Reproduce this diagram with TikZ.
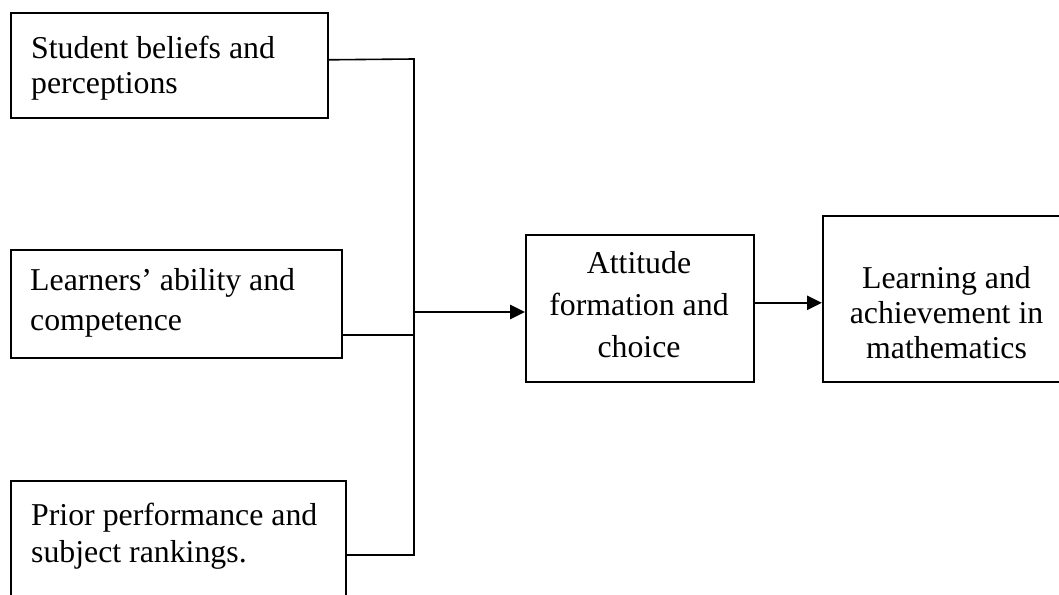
\documentclass[tikz,border=0pt]{standalone}
\usepackage{fontspec}
\setmainfont{Liberation Serif}
\usetikzlibrary{arrows.meta}
\newcommand\tstrut{\rule{0pt}{25pt}}
\begin{document}
\begin{tikzpicture}[x=1pt,y=-1pt,
  box/.style={draw=black, line width=1.6pt, rectangle, inner sep=0pt, anchor=north west},
  txt/.style={inner sep=0pt, font=\fontsize{31.8}{#1}\selectfont},
  conn/.style={draw=black, line width=1.6pt},
  arr/.style={draw=black, line width=2.6pt, -{Triangle[length=15pt,width=14pt]}}]
\fill[white] (0,0) rectangle (1059,594);
\useasboundingbox (0,0) rectangle (1059,594);
% boxes
\node[box, minimum width=317pt, minimum height=105pt] (b1) at (10,12) {};
\node[box, minimum width=331pt, minimum height=108pt] (b2) at (10,249) {};
\node[box, minimum width=335pt, minimum height=140pt] (b5) at (10,480) {};
\node[box, minimum width=228pt, minimum height=147pt] (b3) at (525,234) {};
\node[box, minimum width=249pt, minimum height=166pt] (b4) at (822,215) {};
% texts
\node[txt=35pt, align=left, anchor=north west] (t1) at (31,33) {\tstrut Student beliefs and\\perceptions};
\node[txt=40pt, align=left, anchor=north west] (t2) at (30,265) {\tstrut Learners’ ability and\\competence};
\node[txt=37pt, align=left, anchor=north west] (t5) at (31,500) {\tstrut Prior performance and\\subject rankings.};
\node[txt=42pt, align=center, anchor=north] (t3) at (639,248) {\tstrut Attitude\\formation and\\choice};
\node[txt=35pt, align=center, anchor=north] (t4) at (946.5,263) {\tstrut Learning and\\achievement in\\mathematics};
% connectors
\coordinate (top) at (414,59);
\coordinate (bot) at (414,555);
\coordinate (j) at (414,312);
\draw[conn] ([yshift=5.5pt]b1.east) -- (top) -- (bot) -- (bot -| b5.east);
\draw[conn] ([yshift=-31pt]b2.east) -- ([yshift=-31pt]b2.east -| top);
\draw[arr] (j) -- (j -| b3.west);
\draw[arr] ([yshift=5.5pt]b3.east) -- ([yshift=5.5pt]b3.east -| b4.west);
\end{tikzpicture}
\end{document}
